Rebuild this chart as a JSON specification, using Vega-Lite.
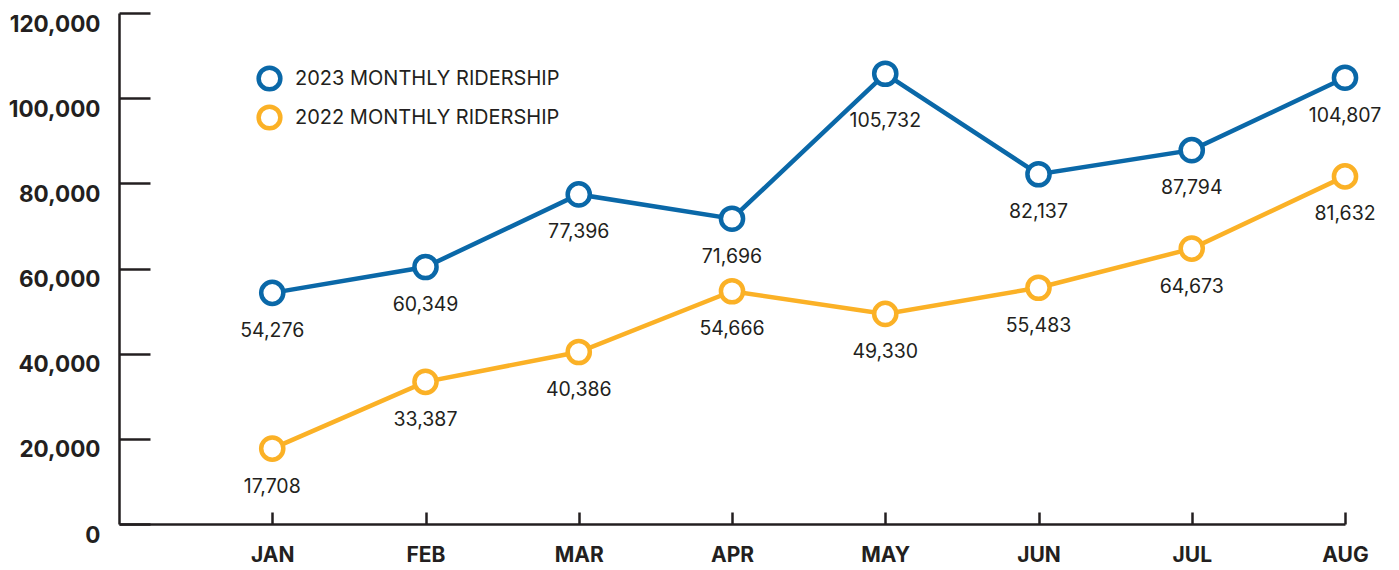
{
  "$schema": "https://vega.github.io/schema/vega-lite/v6.json",
  "width": 1226,
  "height": 511,
  "autosize": {"type": "none"},
  "padding": {"left": 119, "top": 13, "right": 54, "bottom": 46},
  "background": "white",
  "config": {
    "view": {"stroke": null},
    "font": "Inter",
    "axis": {"grid": false, "domainColor": "#231f20", "tickColor": "#231f20", "domainWidth": 2.5, "tickWidth": 2.5, "labelColor": "#231f20", "labelFontWeight": "bold", "labelFontSize": 21, "title": null},
    "legend": {"padding": 0}
  },
  "data": {
    "values": [
      {"month": "JAN", "series": "2023 MONTHLY RIDERSHIP", "riders": 54276},
      {"month": "FEB", "series": "2023 MONTHLY RIDERSHIP", "riders": 60349},
      {"month": "MAR", "series": "2023 MONTHLY RIDERSHIP", "riders": 77396},
      {"month": "APR", "series": "2023 MONTHLY RIDERSHIP", "riders": 71696},
      {"month": "MAY", "series": "2023 MONTHLY RIDERSHIP", "riders": 105732},
      {"month": "JUN", "series": "2023 MONTHLY RIDERSHIP", "riders": 82137},
      {"month": "JUL", "series": "2023 MONTHLY RIDERSHIP", "riders": 87794},
      {"month": "AUG", "series": "2023 MONTHLY RIDERSHIP", "riders": 104807},
      {"month": "JAN", "series": "2022 MONTHLY RIDERSHIP", "riders": 17708},
      {"month": "FEB", "series": "2022 MONTHLY RIDERSHIP", "riders": 33387},
      {"month": "MAR", "series": "2022 MONTHLY RIDERSHIP", "riders": 40386},
      {"month": "APR", "series": "2022 MONTHLY RIDERSHIP", "riders": 54666},
      {"month": "MAY", "series": "2022 MONTHLY RIDERSHIP", "riders": 49330},
      {"month": "JUN", "series": "2022 MONTHLY RIDERSHIP", "riders": 55483},
      {"month": "JUL", "series": "2022 MONTHLY RIDERSHIP", "riders": 64673},
      {"month": "AUG", "series": "2022 MONTHLY RIDERSHIP", "riders": 81632}
    ]
  },
  "encoding": {
    "x": {
      "field": "month", "type": "ordinal",
      "scale": {"type": "point", "domain": [" ", "JAN", "FEB", "MAR", "APR", "MAY", "JUN", "JUL", "AUG"], "padding": 0},
      "axis": {"values": ["JAN", "FEB", "MAR", "APR", "MAY", "JUN", "JUL", "AUG"], "labelAngle": 0, "tickSize": -12, "labelPadding": 43, "labelBaseline": "middle", "labelOffset": 0}
    },
    "y": {
      "field": "riders", "type": "quantitative",
      "scale": {"domain": [0, 120000], "nice": false, "zero": true},
      "axis": {"values": [0, 20000, 40000, 60000, 80000, 100000, 120000], "format": ",.0f", "labelFontSize": 22.5, "tickSize": -31, "labelPadding": 50, "labelOffset": 11, "labelBaseline": "middle"}
    },
    "stroke": {
      "field": "series", "type": "nominal",
      "scale": {"domain": ["2023 MONTHLY RIDERSHIP", "2022 MONTHLY RIDERSHIP"], "range": ["#0a68a8", "#fbb126"]},
      "legend": {
        "title": null, "orient": "none", "legendX": 137, "legendY": 52,
        "symbolType": "circle", "symbolFillColor": "white", "symbolStrokeWidth": 4.5, "symbolSize": 471,
        "labelFontSize": 20, "labelColor": "#231f20", "labelFont": "Inter", "labelOffset": 12, "rowPadding": -2, "labelLimit": 0
      }
    }
  },
  "layer": [
    {"mark": {"type": "line", "strokeWidth": 4.5}},
    {"mark": {"type": "point", "shape": "circle", "filled": false, "fill": "white", "fillOpacity": 1, "opacity": 1, "size": 490, "strokeWidth": 4.5}},
    {
      "transform": [{"filter": "!(datum.month == 'MAY' && datum.series == '2023 MONTHLY RIDERSHIP')"}],
      "mark": {"type": "text", "dy": 38, "fontSize": 19.5, "color": "#231f20", "baseline": "middle"},
      "encoding": {"text": {"field": "riders", "type": "quantitative", "format": ",.0f"}, "stroke": {"value": null}}
    },
    {
      "transform": [{"filter": "datum.month == 'MAY' && datum.series == '2023 MONTHLY RIDERSHIP'"}],
      "mark": {"type": "text", "dy": 47, "fontSize": 19.5, "color": "#231f20", "baseline": "middle"},
      "encoding": {"text": {"field": "riders", "type": "quantitative", "format": ",.0f"}, "stroke": {"value": null}}
    }
  ]
}
